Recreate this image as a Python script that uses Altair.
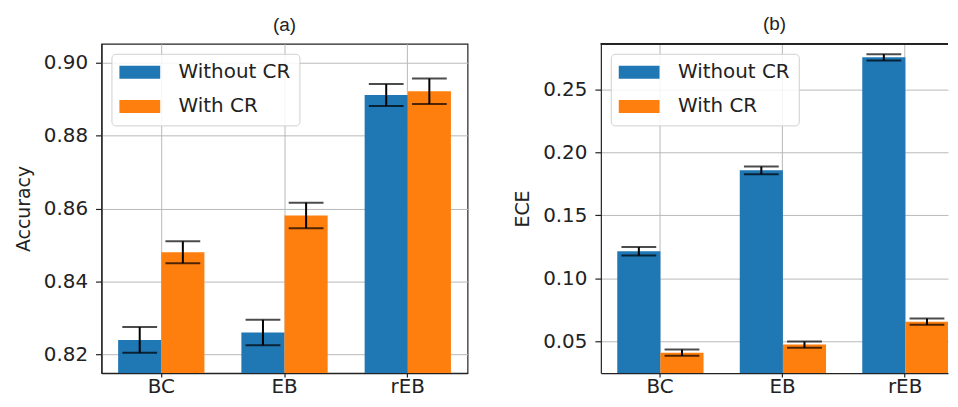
import altair as alt
import pandas as pd

categories = ["BC", "EB", "rEB"]
series = ["Without CR", "With CR"]
colors = ["#1f77b4", "#ff7f0e"]

acc_without = [0.8240, 0.8260, 0.8911]
acc_with = [0.8480, 0.8581, 0.8921]
acc_err_without = [0.0035, 0.0035, 0.0030]
acc_err_with = [0.0030, 0.0035, 0.0035]

ece_without = [0.1215, 0.1857, 0.2754]
ece_with = [0.0410, 0.0474, 0.0656]
ece_err_without = [0.0033, 0.0030, 0.0025]
ece_err_with = [0.0025, 0.0025, 0.0025]

acc_ticks = [0.82, 0.84, 0.86, 0.88, 0.90]
ece_ticks = [0.05, 0.10, 0.15, 0.20, 0.25]


def make_df(v_without, v_with, e_without, e_with):
    rows = []
    for i, c in enumerate(categories):
        rows.append({"category": c, "series": series[0], "value": v_without[i], "err": e_without[i]})
        rows.append({"category": c, "series": series[1], "value": v_with[i], "err": e_with[i]})
    return pd.DataFrame(rows)


INK = "#222222"
PLOT_H = 331


def panel(df, title, ytitle, domain, ticks, width, outer, align, frame_right):
    base = alt.Chart(df).transform_calculate(
        lo="datum.value - datum.err", hi="datum.value + datum.err"
    )
    x = alt.X(
        "category:N",
        sort=categories,
        scale=alt.Scale(paddingInner=0.3, paddingOuter=outer, align=align),
        axis=alt.Axis(title=None, labelAngle=0, grid=True, tickSize=4, labelPadding=0),
    )
    xo = alt.XOffset("series:N", sort=series)
    yscale = alt.Scale(domain=domain, zero=False, nice=False)
    bars = base.mark_bar(clip=True).encode(
        x=x,
        xOffset=xo,
        y=alt.Y(
            "value:Q",
            scale=yscale,
            axis=alt.Axis(values=ticks, format=".2f", title=ytitle, grid=True,
                          tickSize=6, labelPadding=8, titlePadding=10),
        ),
        color=alt.Color(
            "series:N",
            sort=series,
            scale=alt.Scale(domain=series, range=colors),
            legend=alt.Legend(
                title=None,
                orient="none",
                legendX=10,
                legendY=10,
                symbolType="M-2.733,-0.867L2.733,-0.867L2.733,0.867L-2.733,0.867Z",
                symbolSize=225,
                symbolStrokeWidth=0,
                symbolOpacity=1,
                symbolOffset=10,
                labelFont="DejaVu Sans",
                labelFontSize=20,
                labelColor=INK,
                labelOffset=29,
                rowPadding=14.5,
                padding=8.5,
                strokeColor="#d0d0d0",
                cornerRadius=4,
                fillColor="rgba(255,255,255,0.85)",
            ),
        ),
    )
    rule = base.mark_rule(color="black", strokeWidth=2).encode(
        x=x, xOffset=xo, y=alt.Y("lo:Q", scale=yscale), y2="hi:Q"
    )
    cap_lo = base.mark_tick(color="black", thickness=2, size=35).encode(
        x=x, xOffset=xo, y=alt.Y("lo:Q", scale=yscale)
    )
    cap_hi = base.mark_tick(color="black", thickness=2, size=35).encode(
        x=x, xOffset=xo, y=alt.Y("hi:Q", scale=yscale)
    )
    layers = [bars, rule, cap_lo, cap_hi]
    if frame_right:
        view = alt.ViewBackground(stroke=INK, strokeWidth=1.2)
    else:
        view = alt.ViewBackground(stroke="transparent")
        top = alt.Chart(df).mark_rule(color=INK, strokeWidth=1.2).encode(
            y=alt.value(0), x=alt.value(0), x2=alt.value(width)
        )
        layers.append(top)
    return alt.layer(*layers).properties(
        width=width,
        height=PLOT_H,
        view=view,
        title=alt.TitleParams(title, font="Liberation Sans", fontSize=19,
                              fontWeight="normal", color=INK, offset=9, anchor="middle"),
    )


acc_df = make_df(acc_without, acc_with, acc_err_without, acc_err_with)
ece_df = make_df(ece_without, ece_with, ece_err_without, ece_err_with)

left = panel(acc_df, "(a)", "Accuracy", [0.8149, 0.9051], acc_ticks, 368, 0.135, 0.5, True)
right = panel(ece_df, "(b)", "ECE", [0.0248, 0.2861], ece_ticks, 349, 0.067, 1, False)

chart = (
    alt.hconcat(left, right, spacing=44)
    .resolve_scale(y="independent", x="independent", color="independent")
    .resolve_legend(color="independent")
    .properties(padding={"left": 5, "top": 5, "right": 0, "bottom": 0}, background="white")
    .configure_axis(
        domainColor=INK,
        domainWidth=1.2,
        tickColor=INK,
        tickWidth=1.2,
        labelFont="DejaVu Sans",
        labelFontSize=20,
        labelColor=INK,
        titleFont="DejaVu Sans",
        titleFontSize=19,
        titleFontWeight="normal",
        titleColor=INK,
        gridColor="#b8b8b8",
        gridWidth=1,
    )
)

chart.save("out.html", embed_options={"renderer": "svg", "actions": False})
